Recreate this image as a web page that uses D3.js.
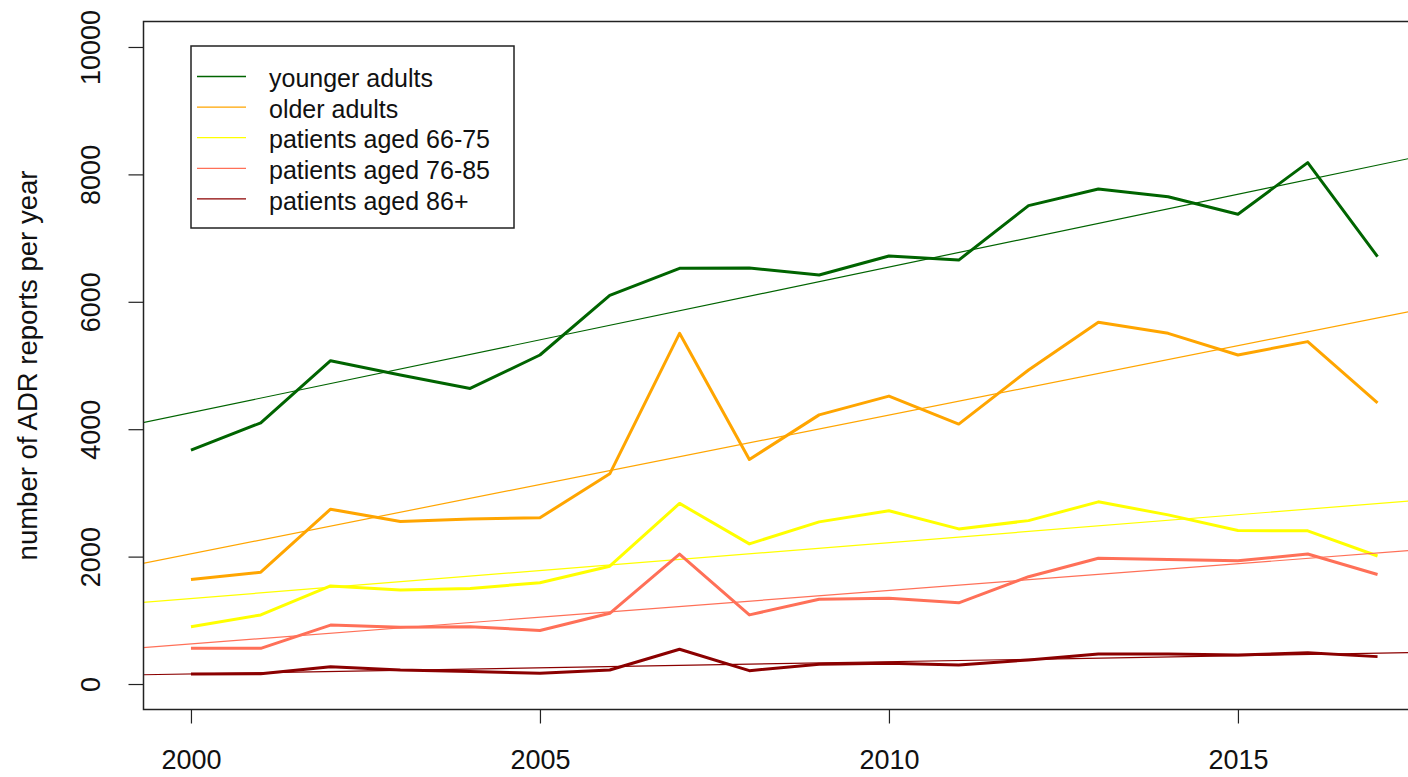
<!DOCTYPE html>
<html>
<head>
<meta charset="utf-8">
<script src="https://cdn.jsdelivr.net/npm/d3@7"></script>
<style>
  html, body { margin: 0; padding: 0; background: #fff; }
  svg { display: block; font-family: "Liberation Sans", Arial, sans-serif; }
</style>
</head>
<body>
<svg id="chart" width="1408" height="777"></svg>
<script>
// Annual ADR report counts by age group, 2000-2017
const years = [2000, 2001, 2002, 2003, 2004, 2005, 2006, 2007, 2008, 2009,
               2010, 2011, 2012, 2013, 2014, 2015, 2016, 2017];

const youngerAdults = [3670, 4100, 5075, 4850, 4640, 5165, 6100, 6525, 6530, 6420,
                       6720, 6655, 7510, 7770, 7650, 7375, 8185, 6710];
const olderAdults   = [1640, 1755, 2745, 2550, 2590, 2610, 3300, 5505, 3525, 4225,
                       4520, 4080, 4930, 5680, 5505, 5165, 5375, 4415];
const aged66to75    = [900, 1085, 1540, 1475, 1500, 1590, 1850, 2835, 2200, 2545,
                       2720, 2435, 2565, 2860, 2655, 2410, 2405, 2010];
const aged76to85    = [560, 560, 925, 890, 900, 840, 1110, 2040, 1085, 1330,
                       1345, 1275, 1685, 1975, 1955, 1935, 2040, 1720];
const aged86plus    = [157, 160, 272, 220, 195, 168, 220, 545, 210, 310,
                       325, 300, 378, 470, 470, 455, 490, 430];

const seriesNames  = ["younger adults", "older adults", "patients aged 66-75",
                      "patients aged 76-85", "patients aged 86+"];
const seriesColors = ["#006400", "#FFA500", "#FFFF00", "#FF7058", "#8B0000"];
const seriesValues = [youngerAdults, olderAdults, aged66to75, aged76to85, aged86plus];

const yTicks = [0, 2000, 4000, 6000, 8000, 10000];
const xTicks = [2000, 2005, 2010, 2015];
const yTitle = "number of ADR reports per year";

// R-style 4% padding on both axes
const xDomain = [2000 - 0.68, 2017 + 0.68];
const yDomain = [-400, 10400];

const svg = d3.select("#chart");
const x = d3.scaleLinear().domain(xDomain).range([143.5, 1425]);
const y = d3.scaleLinear().domain(yDomain).range([709.5, 21.5]);

// clip region = plot box
svg.append("defs").append("clipPath").attr("id", "plotClip")
  .append("rect")
  .attr("x", x(xDomain[0])).attr("y", y(yDomain[1]))
  .attr("width", x(xDomain[1]) - x(xDomain[0]))
  .attr("height", y(yDomain[0]) - y(yDomain[1]));

const plot = svg.append("g").attr("clip-path", "url(#plotClip)");

// least-squares fit for each series
function fit(xs, ys) {
  const n = xs.length;
  const mx = d3.mean(xs), my = d3.mean(ys);
  let sxy = 0, sxx = 0;
  for (let i = 0; i < n; i++) {
    sxy += (xs[i] - mx) * (ys[i] - my);
    sxx += (xs[i] - mx) * (xs[i] - mx);
  }
  const b = sxy / sxx;
  return { a: my - b * mx, b };
}

const line = d3.line().x(d => x(d[0])).y(d => y(d[1]));

seriesValues.forEach((vals, i) => {
  const pts = years.map((yr, j) => [yr, vals[j]]);
  plot.append("path")
    .attr("d", line(pts))
    .attr("fill", "none")
    .attr("stroke", seriesColors[i])
    .attr("stroke-width", 3)
    .attr("stroke-linejoin", "round");

  const f = fit(years, vals);
  const x0 = xDomain[0] - 1, x1 = xDomain[1] + 1;
  plot.append("path")
    .attr("d", line([[x0, f.a + f.b * x0], [x1, f.a + f.b * x1]]))
    .attr("fill", "none")
    .attr("stroke", seriesColors[i])
    .attr("stroke-width", 1.2);
});

// plot box
svg.append("rect")
  .attr("x", x(xDomain[0])).attr("y", y(yDomain[1]))
  .attr("width", x(xDomain[1]) - x(xDomain[0]))
  .attr("height", y(yDomain[0]) - y(yDomain[1]))
  .attr("fill", "none").attr("stroke", "#222").attr("stroke-width", 1.5);

// x axis
const xAxis = svg.append("g")
  .attr("transform", `translate(0,${y(yDomain[0])})`)
  .call(d3.axisBottom(x).tickValues(xTicks).tickFormat(d3.format("d"))
    .tickSize(14).tickPadding(0));
xAxis.select(".domain").remove();
xAxis.selectAll(".tick line").attr("stroke", "#222").attr("stroke-width", 1.2);
xAxis.selectAll(".tick text")
  .attr("y", 59).attr("dy", null)
  .attr("font-size", 27).attr("fill", "#111")
  .attr("font-family", "Liberation Sans, Arial, sans-serif");

// y axis
const yAxis = svg.append("g")
  .attr("transform", `translate(${x(xDomain[0])},0)`)
  .call(d3.axisLeft(y).tickValues(yTicks).tickFormat(d3.format("d")).tickSize(15));
yAxis.select(".domain").remove();
yAxis.selectAll(".tick line").attr("stroke", "#222").attr("stroke-width", 1.2);
yAxis.selectAll(".tick text")
  .attr("x", null).attr("dy", null)
  .attr("text-anchor", "middle")
  .attr("transform", "translate(-43.5,0) rotate(-90)")
  .attr("font-size", 27).attr("fill", "#111")
  .attr("font-family", "Liberation Sans, Arial, sans-serif");

// y axis title
svg.append("text")
  .attr("transform", `translate(37,${(y(0) + y(10000)) / 2}) rotate(-90)`)
  .attr("text-anchor", "middle")
  .attr("font-size", 27.5).attr("fill", "#111")
  .text(yTitle);

// legend
const legend = svg.append("g");
legend.append("rect")
  .attr("x", 191).attr("y", 46).attr("width", 323).attr("height", 182)
  .attr("fill", "#fff").attr("stroke", "#222").attr("stroke-width", 1.5);
seriesNames.forEach((name, i) => {
  const ry = 76.5 + i * 30.6;
  legend.append("line")
    .attr("x1", 197).attr("x2", 246).attr("y1", ry).attr("y2", ry)
    .attr("stroke", seriesColors[i]).attr("stroke-width", 1.3);
  legend.append("text")
    .attr("x", 269).attr("y", ry + 2).attr("dy", "0.35em")
    .attr("font-size", 25).attr("fill", "#111")
    .text(name);
});
</script>
</body>
</html>
